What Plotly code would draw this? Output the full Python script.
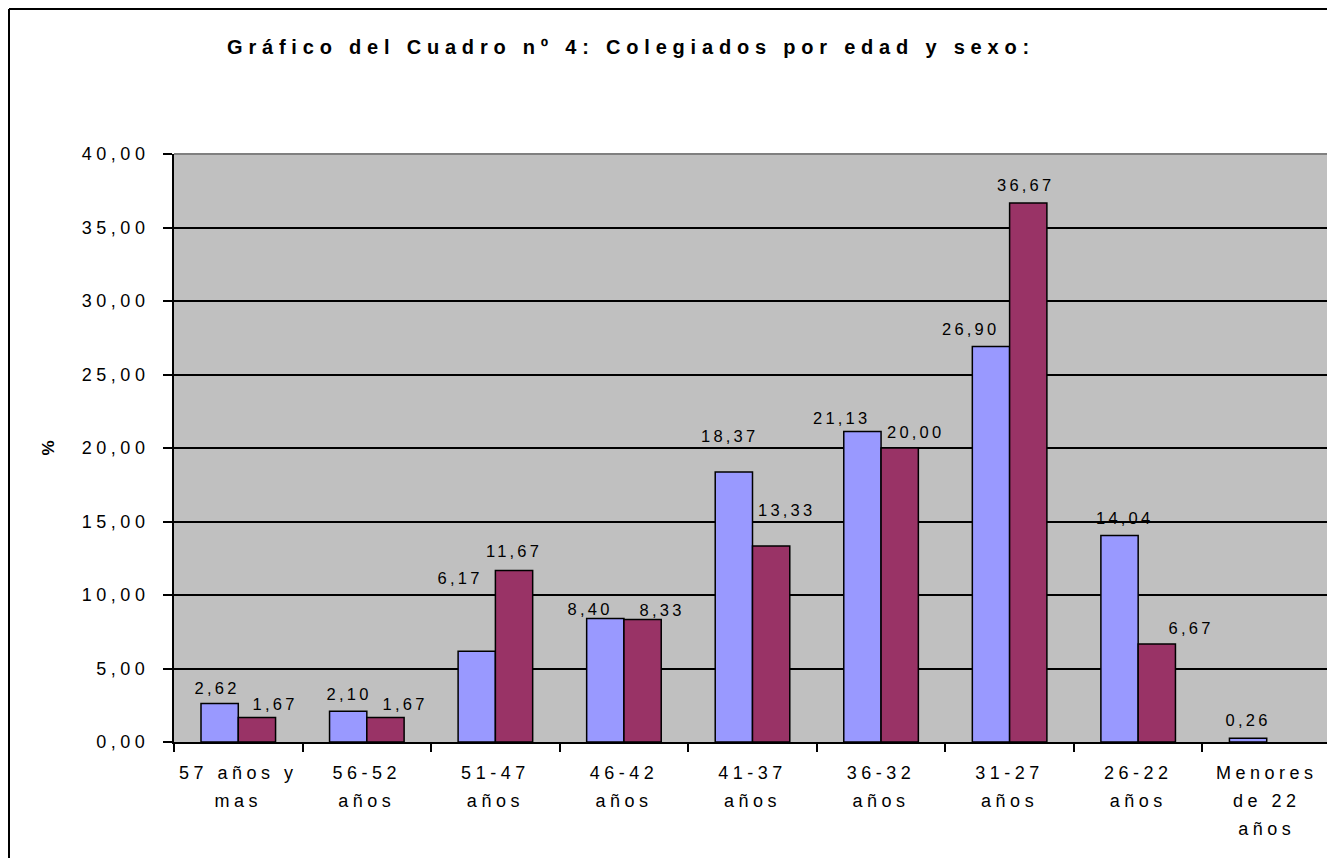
import plotly.graph_objects as go

categories = ["57 años y<br>mas", "56-52<br>años", "51-47<br>años", "46-42<br>años",
              "41-37<br>años", "36-32<br>años", "31-27<br>años", "26-22<br>años",
              "Menores<br>de 22<br>años"]
serie_a = [2.62, 2.10, 6.17, 8.40, 18.37, 21.13, 26.90, 14.04, 0.26]
serie_b = [1.67, 1.67, 11.67, 8.33, 13.33, 20.00, 36.67, 6.67, None]
y_ticks = [0, 5, 10, 15, 20, 25, 30, 35, 40]

# label nudges (pixels) as placed in the original chart
nudge_x_a = [-4, -1, -18, -17, -6, -23, -22, 3, -2]
nudge_y_a = [15, 17, 73, 10, 36, 13, 18, 18, 18]
nudge_x_b = [16, 18, -2, 18, 14, 14, -4, 33, 0]
nudge_y_b = [13, 13, 19, 10, 36, 16, 18, 16, 0]

FONT = "Arial, Liberation Sans, sans-serif"

fig = go.Figure()
fig.add_trace(go.Bar(
    x=categories, y=serie_a, name="A",
    marker=dict(color="#9999FF", line=dict(color="black", width=1.5)),
))
fig.add_trace(go.Bar(
    x=categories, y=serie_b, name="B",
    marker=dict(color="#993366", line=dict(color="black", width=1.5)),
))

# page is offset by the 8px body margin
OFF = 8
W, H = 1335 - OFF, 858 - OFF
L, T = 174 - OFF, 154 - OFF
R = 1335 - 1331
B = 858 - 742
pw, ph = W - L - R, H - T - B
BARGAP = 0.42
half = pw / len(categories) * (1 - BARGAP) / 4  # offset of each bar centre

fig.update_layout(
    width=W, height=H,
    margin=dict(l=L, r=R, t=T, b=B, pad=0),
    separators=",.",
    barmode="group", bargap=BARGAP, bargroupgap=0,
    showlegend=False,
    paper_bgcolor="white", plot_bgcolor="#C0C0C0",
    font=dict(family=FONT, size=18, color="black"),
    title=dict(text="<b>Gráfico del Cuadro nº 4: Colegiados por edad y sexo:</b>",
               x=(631 - OFF) / W, xanchor="center", y=1 - (47 - OFF) / H, yanchor="middle",
               font=dict(family=FONT, size=20, color="black")),
    xaxis=dict(
        type="category", tickson="boundaries", ticks="outside", ticklen=8,
        tickcolor="black", tickwidth=2, showline=True, linecolor="black", linewidth=2,
        showgrid=False, ticklabelstandoff=13,
        tickfont=dict(family=FONT, size=18, color="black"),
    ),
    yaxis=dict(
        range=[0, 40], tickvals=y_ticks, tickformat=".2f",
        ticks="outside", ticklen=9, tickcolor="black", tickwidth=2,
        showline=True, linecolor="black", linewidth=2,
        showgrid=True, gridcolor="black", gridwidth=2,
        zeroline=False, ticklabelstandoff=10,
        tickfont=dict(family=FONT, size=18, color="black"),
    ),
)

# data labels
for vals, sign, nx, ny in ((serie_a, -1, nudge_x_a, nudge_y_a), (serie_b, 1, nudge_x_b, nudge_y_b)):
    for cat, v, dx, dy in zip(categories, vals, nx, ny):
        if v is None:
            continue
        fig.add_annotation(
            x=cat, y=v, xref="x", yref="y", text=f"{v:.2f}".replace(".", ","),
            showarrow=False, xanchor="center", yanchor="middle",
            xshift=sign * half + dx + 1.6, yshift=dy,
            font=dict(family=FONT, size=16.5, color="black"),
        )

# y-axis title "%"
fig.add_annotation(text="<b>%</b>", xref="paper", yref="paper",
                   x=(48 - 174) / pw, y=(742 - 447) / ph, textangle=-90,
                   showarrow=False, xanchor="center", yanchor="middle",
                   font=dict(family=FONT, size=17, color="black"))

# plot-area border (grey, top & right)
fig.add_shape(type="line", xref="paper", yref="paper", x0=0, x1=1, y0=1, y1=1,
              line=dict(color="#808080", width=2), layer="above")
fig.add_shape(type="line", xref="paper", yref="paper", x0=1, x1=1, y0=0, y1=1,
              line=dict(color="#808080", width=2), layer="above")
# outer chart frame (left and top visible)
fx = (1 - L) / pw
fy = 1 + (T - 1) / ph
fig.add_shape(type="line", xref="paper", yref="paper",
              x0=fx, x1=fx, y0=fy, y1=-(B + 10) / ph,
              line=dict(color="black", width=2))
fig.add_shape(type="line", xref="paper", yref="paper",
              x0=fx, x1=(W + 10 - L) / pw, y0=fy, y1=fy,
              line=dict(color="black", width=2))

# wide character spacing and line spacing as in the original spreadsheet chart
post = """
var gd = document.getElementById('{plot_id}');
function sp(sel, v) { gd.querySelectorAll(sel).forEach(function(t){ t.setAttribute('letter-spacing', v); }); }
sp('.gtitle', '5.8px');
sp('.xtick text', '4.5px');
sp('.ytick text', '4.5px');
sp('.annotation-text', '3.2px');
gd.querySelectorAll('.xtick tspan.line').forEach(function(t){
  var d = t.getAttribute('dy');
  if (d && d.indexOf('em') > 0) { t.setAttribute('dy', (parseFloat(d) * 1.2) + 'em'); }
});
"""

fig.write_html("out.html", post_script=post)
